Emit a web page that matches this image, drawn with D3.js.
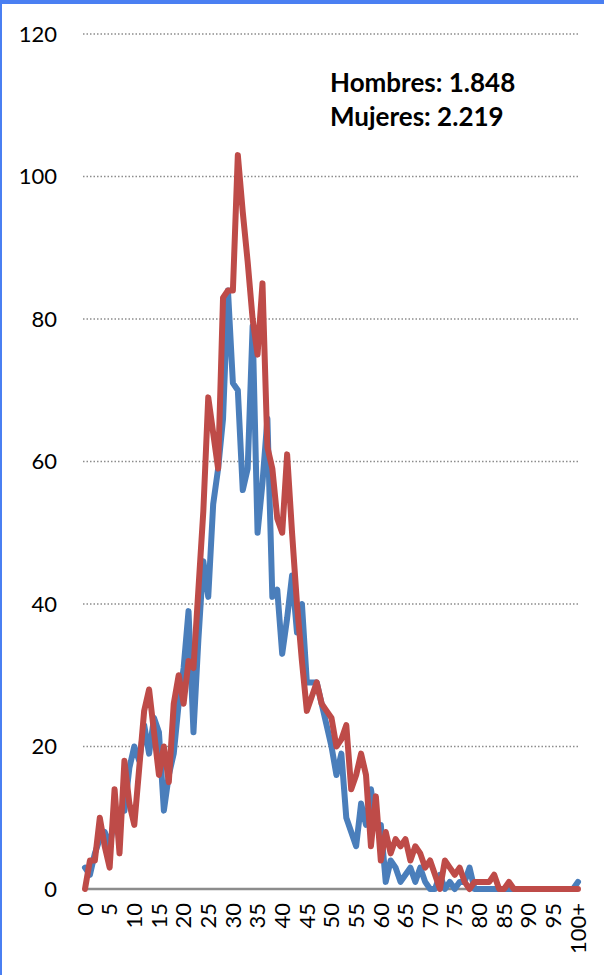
<!DOCTYPE html>
<meta charset="utf-8">
<title>Hombres y Mujeres por edad</title>
<style>

body {
  margin: 0;
  background: #fff;
}

text {
  font-family: Lato, "Liberation Sans", sans-serif;
  fill: #000;
}

.grid line {
  stroke: #8c8c8c;
  stroke-width: 1.5;
  stroke-dasharray: 1.5,2;
}

.serie {
  fill: none;
  stroke-width: 6;
  stroke-linejoin: round;
  stroke-linecap: round;
}

</style>
<svg width="604" height="975"></svg>
<script src="https://cdn.jsdelivr.net/npm/d3@7"></script>
<script>

// valores por edad, de 0 a 100+
var hombres = [
  3, 2, 5, 7, 8, 6, 10, 11, 11, 17,
  20, 18, 23, 19, 24, 22, 11, 16, 19, 26,
  31, 39, 22, 35, 46, 41, 54, 59, 66, 84,
  71, 70, 56, 59, 79, 50, 57, 66, 41, 42,
  33, 38, 44, 36, 40, 29, 29, 29, 26, 23,
  20, 16, 19, 10, 8, 6, 12, 9, 14, 9,
  9, 1, 4, 3, 1, 2, 3, 1, 3, 1,
  0, 0, 2, 0, 1, 0, 1, 1, 3, 0,
  0, 0, 0, 0, 0, 0, 0, 0, 0, 0,
  0, 0, 0, 0, 0, 0, 0, 0, 0, 0,
  1
];

var mujeres = [
  0, 4, 4, 10, 6, 3, 14, 5, 18, 12,
  9, 17, 25, 28, 22, 16, 20, 15, 26, 30,
  26, 32, 31, 42, 53, 69, 64, 59, 83, 84,
  84, 103, 95, 88, 80, 75, 85, 62, 59, 52,
  50, 61, 50, 40, 32, 25, 27, 29, 26, 25,
  24, 20, 21, 23, 14, 16, 19, 16, 6, 13,
  4, 8, 5, 7, 6, 7, 4, 6, 5, 3,
  4, 2, 0, 4, 3, 2, 3, 1, 0, 1,
  1, 1, 1, 2, 0, 0, 1, 0, 0, 0,
  0, 0, 0, 0, 0, 0, 0, 0, 0, 0,
  0
];

var xTickLabels = ["0", "5", "10", "15", "20", "25", "30", "35", "40", "45", "50",
  "55", "60", "65", "70", "75", "80", "85", "90", "95", "100+"];
var yTicks = [0, 20, 40, 60, 80, 100, 120];
var totales = ["Hombres: 1.848", "Mujeres: 2.219"];

var svg = d3.select("svg"),
    width = +svg.attr("width"),
    height = +svg.attr("height");

var x = d3.scaleLinear()
    .domain([0, hombres.length - 1])
    .range([85, 578]);

var y = d3.scaleLinear()
    .domain([0, 120])
    .range([889, 34]);

// marco azul arriba y a la izquierda
svg.append("rect")
    .attr("x", 0).attr("y", 0)
    .attr("width", width).attr("height", 4)
    .style("fill", "#4a7ff2");
svg.append("rect")
    .attr("x", 0).attr("y", 0)
    .attr("width", 2).attr("height", height)
    .style("fill", "#4a7ff2");

svg.append("g")
    .attr("class", "grid")
  .selectAll("line")
    .data(yTicks.filter(function(d) { return d > 0; }))
  .enter().append("line")
    .attr("x1", 83)
    .attr("x2", 578)
    .attr("y1", function(d) { return y(d); })
    .attr("y2", function(d) { return y(d); });

svg.append("line")
    .attr("x1", 83)
    .attr("x2", 578)
    .attr("y1", y(0))
    .attr("y2", y(0))
    .style("stroke", "#8c8c8c")
    .style("stroke-width", 2.5);

svg.append("g")
  .selectAll("text")
    .data(yTicks)
  .enter().append("text")
    .attr("x", 57)
    .attr("y", function(d) { return y(d); })
    .attr("dy", "0.35em")
    .style("text-anchor", "end")
    .style("font-size", "22px")
    .text(function(d) { return d; });

svg.append("g")
  .selectAll("text")
    .data(xTickLabels)
  .enter().append("text")
    .attr("transform", function(d, i) { return "translate(" + x(i * 5) + ",903) rotate(-90)"; })
    .attr("dy", "0.35em")
    .style("text-anchor", "end")
    .style("font-size", "22px")
    .text(function(d) { return d; });

var line = d3.line()
    .x(function(d, i) { return x(i); })
    .y(function(d) { return y(d); });

svg.append("path")
    .datum(hombres)
    .attr("class", "serie")
    .style("stroke", "#4a7ebb")
    .attr("d", line);

svg.append("path")
    .datum(mujeres)
    .attr("class", "serie")
    .style("stroke", "#be4b48")
    .attr("d", line);

svg.append("g")
  .selectAll("text")
    .data(totales)
  .enter().append("text")
    .attr("x", 330)
    .attr("y", function(d, i) { return 92 + i * 34; })
    .style("font-size", "26px")
    .style("font-weight", "bold")
    .text(function(d) { return d; });

</script>
